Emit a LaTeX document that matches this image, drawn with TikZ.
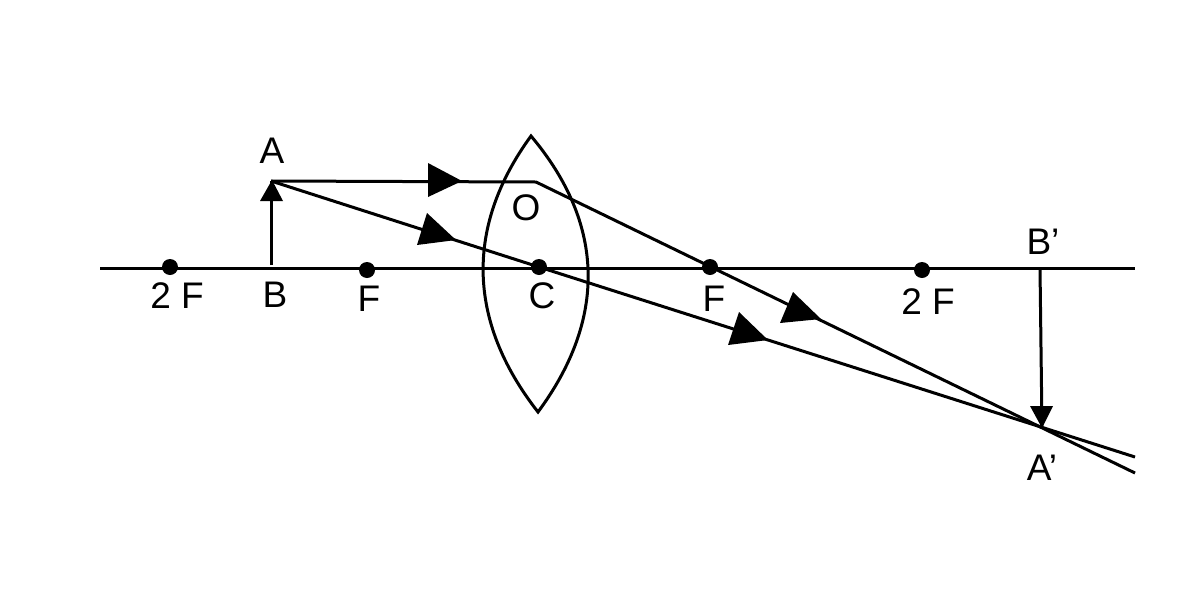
\documentclass[tikz,border=0pt]{standalone}
\usepackage{fontspec}
\setmainfont{Liberation Sans}
\begin{document}
\begin{tikzpicture}[x=1pt,y=-1pt,
  ln/.style={line width=3pt,black},
  dotn/.style={circle,fill=black,inner sep=0pt,minimum size=16pt},
  lbl/.style={font=\fontsize{37}{37}\selectfont,inner sep=0pt,text=black},
  tip/.style={fill=black,draw=none}]
\useasboundingbox[fill=white] (0,0) rectangle (1200,600);
\coordinate (axL) at (100,268);
\coordinate (axR) at (1135,268);
\draw[ln] (axL) -- (axR);
\node[dotn] (f2l) at (170,267) {};
\node[dotn] (fl) at (367,270) {};
\node[dotn] (c) at (539,267) {};
\node[dotn] (fr) at (710,267) {};
\node[dotn] (f2r) at (922,270) {};
% lens
\coordinate (lt) at (531,136);
\coordinate (lb) at (538,412);
\draw[ln,line join=miter] (lt) .. controls (466,225) and (466,320) .. (lb) .. controls (606,320) and (606,225) .. cycle;
% object and rays
\coordinate (B) at (271,265);
\coordinate (A) at (271,181);
\coordinate (O) at (536,182);
\coordinate (Bp) at (1040,268);
\coordinate (Ap) at (1042,428);
\coordinate (e1) at (1135,457);
\coordinate (e2) at (1135,473);
\draw[ln] (B) -- (A);
\draw[ln,line join=round] (A) -- (O) -- (e2);
\draw[ln] (A) -- (c.center) -- (e1);
\draw[ln] (Bp) -- (Ap);
% arrowheads
\fill[tip] (272,180) -- (260,201) -- (283,201) -- cycle;
\fill[tip] (462,181) -- (428,163) -- (428,197) -- cycle;
\fill[tip] (456,240) -- (427,213) -- (417,245) -- cycle;
\fill[tip] (821,319) -- (793,292) -- (780,323) -- cycle;
\fill[tip] (768,340) -- (739,312) -- (728,345) -- cycle;
\fill[tip] (1042,428) -- (1030,406) -- (1053,406) -- cycle;
% labels
\node[lbl] (tA) at (272,151) {A};
\node[lbl] (tO) at (526,208) {O};
\node[lbl] (t2F) at (177,296) {2 F};
\node[lbl] (tB) at (275,295) {B};
\node[lbl] (tF) at (369,299) {F};
\node[lbl] (tC) at (542,296) {C};
\node[lbl] (tF2) at (714,299) {F};
\node[lbl] (t2F2) at (928,302) {2 F};
\node[lbl] (tBp) at (1043,242) {B’};
\node[lbl] (tAp) at (1042,468) {A’};
\end{tikzpicture}
\end{document}
